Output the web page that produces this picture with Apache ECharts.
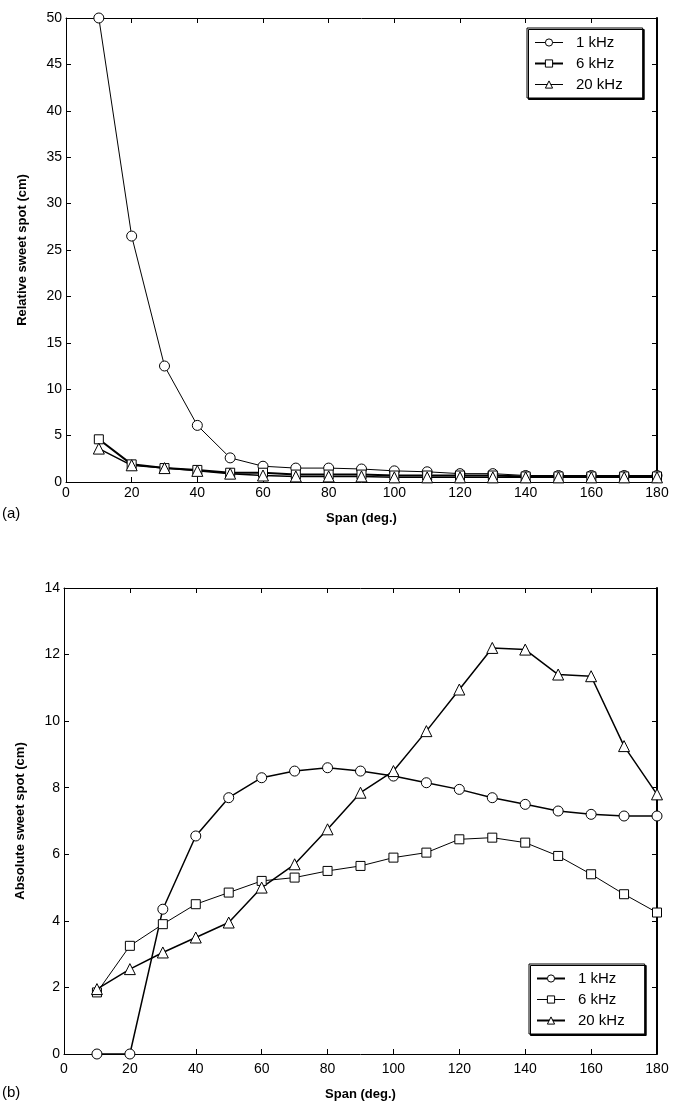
<!DOCTYPE html>
<html>
<head>
<meta charset="utf-8">
<script src="https://cdn.jsdelivr.net/npm/echarts@6/dist/echarts.min.js"></script>
<style>
  html, body { margin: 0; padding: 0; background: #fff; }
  #main { width: 683px; height: 1106px; }
</style>
</head>
<body>
<div id="main"></div>
<script>
// span angles (deg.)
var spans = [10, 20, 30, 40, 50, 60, 70, 80, 90, 100, 110, 120, 130, 140, 150, 160, 170, 180];

// (a) relative sweet spot (cm)
var relative1k  = [50, 26.5, 12.5, 6.1, 2.6, 1.7, 1.5, 1.5, 1.4, 1.2, 1.1, 0.9, 0.9, 0.7, 0.7, 0.7, 0.7, 0.7];
var relative6k  = [4.6, 1.9, 1.5, 1.3, 1.0, 1.0, 0.8, 0.8, 0.8, 0.7, 0.7, 0.7, 0.7, 0.6, 0.6, 0.6, 0.6, 0.6];
var relative20k = [3.6, 1.8, 1.5, 1.2, 0.9, 0.7, 0.6, 0.6, 0.6, 0.5, 0.5, 0.5, 0.5, 0.5, 0.5, 0.5, 0.5, 0.5];

// (b) absolute sweet spot (cm)
var absolute1k  = [0, 0, 4.35, 6.55, 7.7, 8.3, 8.5, 8.6, 8.5, 8.35, 8.15, 7.95, 7.7, 7.5, 7.3, 7.2, 7.15, 7.15];
var absolute6k  = [1.85, 3.25, 3.9, 4.5, 4.85, 5.2, 5.3, 5.5, 5.65, 5.9, 6.05, 6.45, 6.5, 6.35, 5.95, 5.4, 4.8, 4.25];
var absolute20k = [1.95, 2.55, 3.05, 3.5, 3.95, 5.0, 5.7, 6.75, 7.85, 8.5, 9.7, 10.95, 12.2, 12.15, 11.4, 11.35, 9.25, 7.8];

var seriesNames = ['1 kHz', '6 kHz', '20 kHz'];
var markers = ['circle', 'rect', 'triangle'];

function pairs(ys) {
  var out = [];
  for (var i = 0; i < spans.length; i++) {
    out.push([spans[i], ys[i]]);
  }
  return out;
}

var fontName = 'Liberation Sans, Arial, sans-serif';

function makeSeries(name, marker, ys, width, gridIdx) {
  return {
    name: name,
    type: 'line',
    xAxisIndex: gridIdx * 2,
    yAxisIndex: gridIdx * 2,
    data: pairs(ys),
    symbol: marker,
    symbolSize: marker === 'rect' ? 9 : (marker === 'triangle' ? 11 : 10),
    showAllSymbol: true,
    lineStyle: { color: '#000', width: width },
    itemStyle: { color: '#fff', borderColor: '#000', borderWidth: 1 },
    emphasis: { disabled: true },
    animation: false,
    z: 3
  };
}

function mainXAxis(gridIdx, labelMargin, nameGap) {
  return {
    gridIndex: gridIdx,
    type: 'value',
    min: 0, max: 180, interval: 20,
    name: 'Span (deg.)',
    nameLocation: 'middle',
    nameGap: nameGap,
    nameTextStyle: { color: '#000', fontSize: 13, fontWeight: 'bold', fontFamily: fontName },
    axisLine: { onZero: false, lineStyle: { color: '#000', width: 1 } },
    axisTick: { inside: true, length: 5, lineStyle: { color: '#000' } },
    axisLabel: { color: '#000', fontSize: 14, fontFamily: fontName, margin: labelMargin },
    splitLine: { show: false }
  };
}

function topXAxis(gridIdx) {
  return {
    gridIndex: gridIdx,
    type: 'value',
    position: 'top',
    min: 0, max: 180, interval: 20,
    axisLine: { onZero: false, lineStyle: { color: '#000', width: 1 } },
    axisTick: { inside: true, length: 5, lineStyle: { color: '#000' } },
    axisLabel: { show: false },
    splitLine: { show: false }
  };
}

function mainYAxis(gridIdx, max, step, label) {
  return {
    gridIndex: gridIdx,
    type: 'value',
    min: 0, max: max, interval: step,
    name: label,
    nameLocation: 'middle',
    nameGap: 37,
    nameTextStyle: { color: '#000', fontSize: 13, fontWeight: 'bold', fontFamily: fontName },
    axisLine: { onZero: false, lineStyle: { color: '#000', width: 1 } },
    axisTick: { inside: true, length: 5, lineStyle: { color: '#000' } },
    axisLabel: { color: '#000', fontSize: 14, fontFamily: fontName, margin: 4 },
    splitLine: { show: false }
  };
}

function rightYAxis(gridIdx, max, step) {
  return {
    gridIndex: gridIdx,
    type: 'value',
    position: 'right',
    min: 0, max: max, interval: step,
    axisLine: { onZero: false, lineStyle: { color: '#000', width: 2 } },
    axisTick: { inside: true, length: 5, lineStyle: { color: '#000' } },
    axisLabel: { show: false },
    splitLine: { show: false }
  };
}

function makeLegend(top, left, widths) {
  var items = [];
  for (var i = 0; i < seriesNames.length; i++) {
    items.push({
      name: seriesNames[i],
      lineStyle: { color: '#000', width: widths[i] },
      itemStyle: { color: '#fff', borderColor: '#000', borderWidth: 1 }
    });
  }
  return {
    data: items,
    orient: 'vertical',
    left: left,
    top: top,
    itemWidth: 28,
    itemHeight: 9,
    itemGap: 4,
    padding: [6, 20, 5, 7],
    backgroundColor: '#fff',
    borderColor: '#000',
    borderWidth: 1,
    shadowColor: '#000',
    shadowBlur: 0,
    shadowOffsetX: 1.5,
    shadowOffsetY: 1.5,
    selectedMode: false,
    textStyle: { color: '#000', fontSize: 15, fontFamily: fontName, padding: [0, 0, 0, 8], lineHeight: 17 }
  };
}

var chart = echarts.init(document.getElementById('main'));

var option = {
  backgroundColor: '#fff',
  animation: false,
  title: [
    { text: '(a)', left: 2, top: 506, padding: 0, textStyle: { fontSize: 15, fontWeight: 'normal', color: '#000', fontFamily: fontName } },
    { text: '(b)', left: 2, top: 1085, padding: 0, textStyle: { fontSize: 15, fontWeight: 'normal', color: '#000', fontFamily: fontName } }
  ],
  legend: [
    makeLegend(28, 527, [1, 2, 1]),
    makeLegend(964, 529, [2, 1, 2])
  ],
  grid: [
    { left: 66, top: 18, width: 591, height: 464 },
    { left: 64, top: 588, width: 593, height: 466 }
  ],
  xAxis: [mainXAxis(0, 4, 30), topXAxis(0), mainXAxis(1, 8, 34), topXAxis(1)],
  yAxis: [
    mainYAxis(0, 50, 5, 'Relative sweet spot (cm)'),
    rightYAxis(0, 50, 5),
    mainYAxis(1, 14, 2, 'Absolute sweet spot (cm)'),
    rightYAxis(1, 14, 2)
  ],
  series: [
    makeSeries('1 kHz', markers[0], relative1k, 1, 0),
    makeSeries('6 kHz', markers[1], relative6k, 2, 0),
    makeSeries('20 kHz', markers[2], relative20k, 1.5, 0),
    makeSeries('1 kHz', markers[0], absolute1k, 1.5, 1),
    makeSeries('6 kHz', markers[1], absolute6k, 1, 1),
    makeSeries('20 kHz', markers[2], absolute20k, 1.5, 1)
  ]
};

chart.setOption(option);
</script>
</body>
</html>
